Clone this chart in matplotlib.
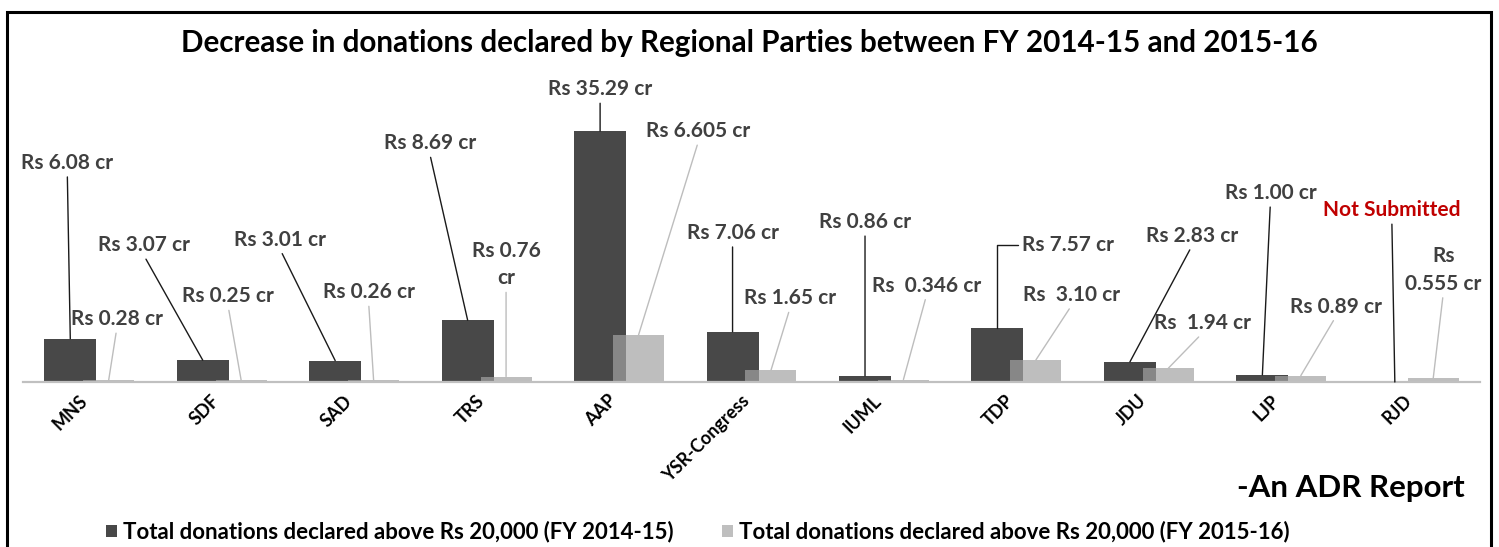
import matplotlib
matplotlib.use("Agg")
import matplotlib.pyplot as plt
from matplotlib.patches import Rectangle, Patch
import numpy as np

plt.rcParams['font.family'] = ['Lato', 'DejaVu Sans']
plt.rcParams['font.weight'] = 'bold'

# ---- data ----
parties = ["MNS", "SDF", "SAD", "TRS", "AAP", "YSR-Congress", "IUML", "TDP", "JDU", "LJP", "RJD"]
fy1415 = [6.08, 3.07, 3.01, 8.69, 35.29, 7.06, 0.86, 7.57, 2.83, 1.00, 0.0]
fy1516 = [0.28, 0.25, 0.26, 0.76, 6.605, 1.65, 0.346, 3.10, 1.94, 0.89, 0.555]
labels1415 = ["Rs 6.08 cr", "Rs 3.07 cr", "Rs 3.01 cr", "Rs 8.69 cr", "Rs 35.29 cr", "Rs 7.06 cr",
              "Rs 0.86 cr", "Rs 7.57 cr", "Rs 2.83 cr", "Rs 1.00 cr", "Not Submitted"]
labels1516 = ["Rs 0.28 cr", "Rs 0.25 cr", "Rs 0.26 cr", "Rs 0.76\ncr", "Rs 6.605 cr", "Rs 1.65 cr",
              "Rs  0.346 cr", "Rs  3.10 cr", "Rs  1.94 cr", "Rs 0.89 cr", "Rs\n0.555 cr"]
series_names = ["Total donations declared above Rs 20,000 (FY 2014-15)",
                "Total donations declared above Rs 20,000 (FY 2015-16)"]
title = "Decrease in donations declared by Regional Parties between FY 2014-15 and 2015-16"

# label offsets (pixels, relative to bar top)
off1415 = [(-3, 176), (-59, 115), (-55, 121), (-38, 177), (0, 42), (0, 99),
           (0, 154), (71, 83), (62, 126), (8, 182), (-3, 172)]
off1516 = [(8, 61), (-13, 84), (-5, 88), (0, 112), (60, 204), (19, 72),
           (23, 94), (36, 65), (34, 45), (35, 69), (10, 108)]

W, H = 1499, 547
fig = plt.figure(figsize=(W / 100, H / 100), dpi=100)
fig.patch.set_facecolor("white")

ax_left, ax_right = 23 / W, 1480 / W
base_y = 382
ymax = 45
px_per = 7.11
ax_top = base_y - ymax * px_per
ax = fig.add_axes([ax_left, 1 - base_y / H, ax_right - ax_left, (base_y - ax_top) / H])

x = np.arange(len(parties))
dark = "#484848"
light = "#a3a3a3"
bw = 0.393
ax.bar(x - 0.143, fy1415, width=bw, color=dark, zorder=2)
ax.bar(x + 0.147, fy1516, width=bw * 0.98, color=light, alpha=0.7, zorder=3)

ax.set_xlim(-0.5, len(parties) - 0.5)
ax.set_ylim(0, ymax)
for s in ["top", "right", "left"]:
    ax.spines[s].set_visible(False)
ax.spines["bottom"].set_color("#c0c0c0")
ax.spines["bottom"].set_linewidth(1.6)
ax.spines["bottom"].set_zorder(4)
ax.set_yticks([])
ax.set_xticks([])

lab_fs = 15
txt_col = "#404040"
for i in range(len(parties)):
    # FY 2014-15 labels
    col = "#c00000" if labels1415[i] == "Not Submitted" else txt_col
    cs = "angle,angleA=0,angleB=90,rad=0" if i == 7 else "arc3"
    rp = (0, 0.5) if i == 7 else (0.5, 0.0)
    ax.annotate(labels1415[i], xy=(x[i] - 0.143, fy1415[i]), xytext=off1415[i],
                textcoords="offset pixels", ha="center", va="center",
                fontsize=lab_fs, fontweight="bold", color=col, zorder=6,
                arrowprops=dict(arrowstyle="-", color="#1a1a1a", lw=1.0,
                                shrinkA=1, shrinkB=0, relpos=rp, connectionstyle=cs))
    # FY 2015-16 labels
    ax.annotate(labels1516[i], xy=(x[i] + 0.147, fy1516[i]), xytext=off1516[i],
                textcoords="offset pixels", ha="center", va="center", linespacing=1.45,
                fontsize=lab_fs, fontweight="bold", color=txt_col, zorder=6,
                arrowprops=dict(arrowstyle="-", color="#bdbdbd", lw=1.0,
                                shrinkA=1, shrinkB=0, relpos=(0.5, 0.0)))
    # category labels
    ax.annotate(parties[i], xy=(x[i], 0), xytext=(-5, -16), textcoords="offset pixels",
                rotation=45, rotation_mode="anchor", ha="right", va="center",
                fontsize=13, fontweight="bold", color="black")

fig.text(749 / W, 1 - 43 / H, title, ha="center", va="center", fontsize=21.3,
         fontweight="bold", color="black")
fig.text(1465 / W, 1 - 488 / H, "-An ADR Report", ha="right", va="center",
         fontsize=22.5, fontweight="bold", color="black")

handles = [Patch(facecolor=dark), Patch(facecolor="#bfbfbf")]
fig.legend(handles, series_names, loc="center left", bbox_to_anchor=(106 / W, 1 - 532 / H),
           ncol=2, frameon=False, handlelength=0.5, handleheight=0.5, handletextpad=0.25,
           columnspacing=2.2, borderpad=0, borderaxespad=0,
           prop=dict(weight="bold", size=16))

fig.patches.append(Rectangle((6.5 / W, -0.1), (1491 - 6.5) / W, 1.1 - 11.5 / H,
                             transform=fig.transFigure, fill=False, ec="black", lw=2.2))

fig.savefig("out.png", dpi=100, facecolor="white")
